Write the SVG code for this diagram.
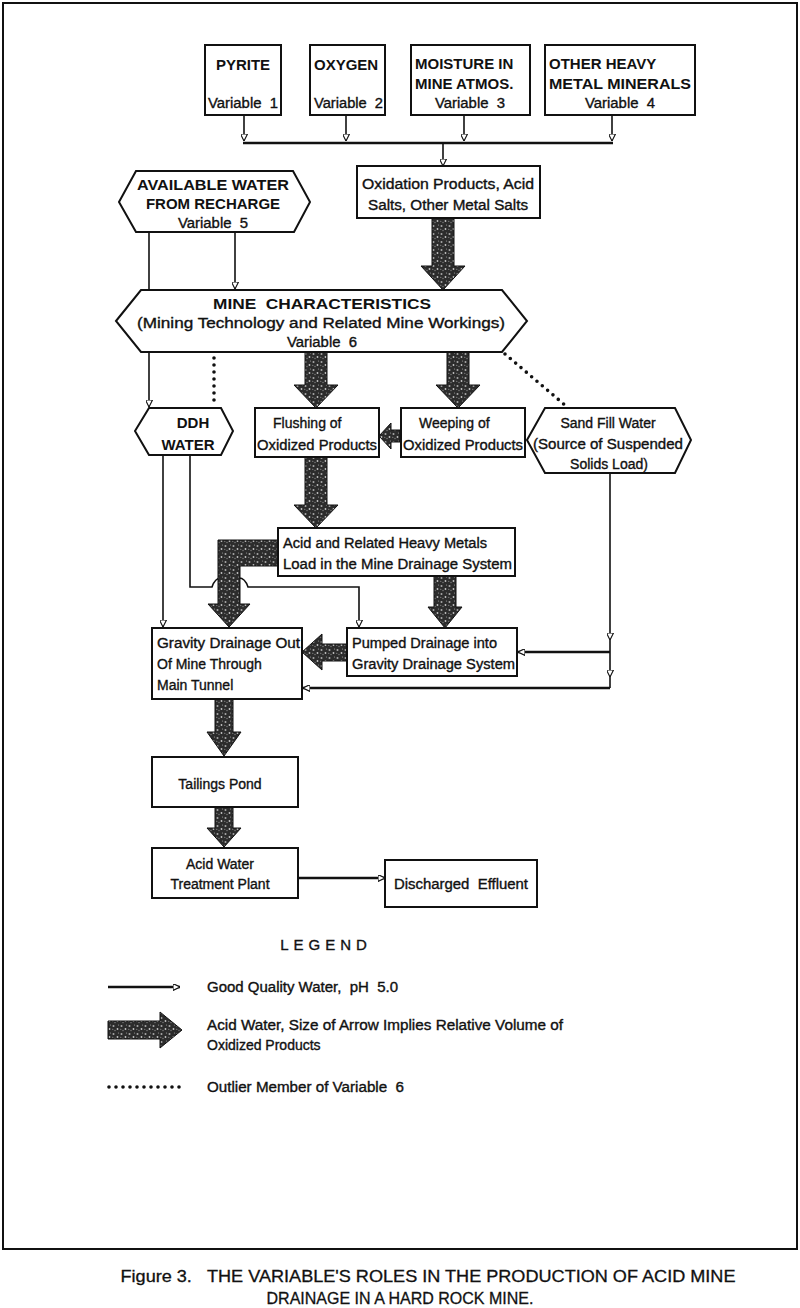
<svg xmlns="http://www.w3.org/2000/svg" width="800" height="1308" viewBox="0 0 800 1308">
<style>
.box{fill:#fff;stroke:#111;stroke-width:2}
.t{font-family:"Liberation Sans",Arial,sans-serif;font-size:14px;fill:#111;stroke:#111;stroke-width:0.35}
.tc{font-family:"Liberation Sans",Arial,sans-serif;font-size:14px;fill:#111;stroke:#111;stroke-width:0.35;text-anchor:middle}
.cap{font-family:"Liberation Sans",Arial,sans-serif;font-size:15px;fill:#111;font-weight:bold}
.ln{fill:none;stroke:#111;stroke-width:1.6}
.lnh{fill:none;stroke:#111;stroke-width:2.4}
.bus{fill:none;stroke:#111;stroke-width:2.6}
.dot{fill:none;stroke:#111;stroke-width:3.6;stroke-linecap:round;stroke-dasharray:0 7}
.fat{fill:url(#stip);stroke:#111;stroke-width:1}
</style>
<defs>
<pattern id="stip" width="8" height="8" patternUnits="userSpaceOnUse">
<rect width="8" height="8" fill="#2c2c2c"/>
<circle cx="1.5" cy="2" r="1" fill="#a8a8a8"/>
<circle cx="5.5" cy="5" r="0.9" fill="#c4c4c4"/>
<circle cx="3" cy="6.5" r="0.7" fill="#808080"/>
<circle cx="6.5" cy="1" r="0.6" fill="#999"/>
<circle cx="0.8" cy="5.2" r="0.5" fill="#b0b0b0"/>
</pattern>
<marker id="ah" viewBox="0 0 10 10" refX="10" refY="5" markerWidth="7" markerHeight="7" markerUnits="userSpaceOnUse" orient="auto">
<path d="M0,0 L10,5 L0,10 Z" fill="#fff" stroke="#111" stroke-width="1.6"/>
</marker>
</defs>

<rect x="3" y="3" width="794" height="1246" fill="none" stroke="#111" stroke-width="2"/>

<g id="connectors">
<path class="ln" d="M244 115 V141" marker-end="url(#ah)"/>
<path class="ln" d="M346 115 V141" marker-end="url(#ah)"/>
<path class="ln" d="M464 115 V141" marker-end="url(#ah)"/>
<path class="ln" d="M612 115 V141" marker-end="url(#ah)"/>
<path class="bus" d="M243 143 H613"/>
<path class="ln" d="M443 143 V166" marker-end="url(#ah)"/>
<path class="ln" d="M235 232 V289" marker-end="url(#ah)"/>
<path class="ln" d="M149 232 V407" marker-end="url(#ah)"/>
<path class="ln" d="M163 456 V627" marker-end="url(#ah)"/>
<path class="ln" d="M190 456 V587 H212 Q215 578 221 578 H239 Q245 578 248 587 H359 V627" marker-end="url(#ah)"/>
<path class="ln" d="M610 473 V640 V677 V688" marker-mid="url(#ah)"/>
<path class="lnh" d="M610 652 H518" marker-end="url(#ah)"/>
<path class="lnh" d="M610 688 H303" marker-end="url(#ah)"/>
<path class="lnh" d="M298 878 H385" marker-end="url(#ah)"/>
<path class="dot" d="M214 358 V406"/>
<path class="dot" d="M505 354 L566 406"/>
<polygon class="fat" points="432,218 454,218 454,266 465,266 443,290 421,266 432,266"/>
<polygon class="fat" points="305,352 327,352 327,385 338,385 316,408 294,385 305,385"/>
<polygon class="fat" points="447,352 469,352 469,385 480,385 458,408 436,385 447,385"/>
<polygon class="fat" points="400,430 391,430 391,423 379,436 391,449 391,442 400,442"/>
<polygon class="fat" points="305,457 327,457 327,505 338,505 316,528 294,505 305,505"/>
<polygon class="fat" points="278,540 218,540 218,604 208,604 229,627 250,604 240,604 240,566 278,566"/>
<polygon class="fat" points="434,576 456,576 456,607 462,607 445,628 428,607 434,607"/>
<polygon class="fat" points="347,644 322,644 322,634 302,652 322,670 322,661 347,661"/>
<polygon class="fat" points="215,699 233,699 233,732 241,732 224,756 207,732 215,732"/>
<polygon class="fat" points="215,807 233,807 233,828 241,828 224,847 207,828 215,828"/>
</g>

<g id="n-pyrite">
<rect class="box" x="205" y="45" width="76" height="70"/>
<text class="cap" x="243" y="70" text-anchor="middle">PYRITE</text>
<text class="t" x="208" y="108" textLength="70" lengthAdjust="spacingAndGlyphs">Variable&#160;&#160;1</text>
</g>
<g id="n-oxygen">
<rect class="box" x="310" y="45" width="75" height="70"/>
<text class="cap" x="314" y="70">OXYGEN</text>
<text class="t" x="314" y="108" textLength="69" lengthAdjust="spacingAndGlyphs">Variable&#160;&#160;2</text>
</g>
<g id="n-moisture">
<rect class="box" x="411" y="45" width="119" height="70"/>
<text class="cap" x="415" y="69">MOISTURE IN</text>
<text class="cap" x="415" y="89">MINE ATMOS.</text>
<text class="tc" x="470" y="108" textLength="70" lengthAdjust="spacingAndGlyphs">Variable&#160;&#160;3</text>
</g>
<g id="n-other">
<rect class="box" x="545" y="45" width="150" height="70"/>
<text class="cap" x="549" y="69">OTHER HEAVY</text>
<text class="cap" x="549" y="89" textLength="142" lengthAdjust="spacingAndGlyphs">METAL MINERALS</text>
<text class="tc" x="620" y="108" textLength="70" lengthAdjust="spacingAndGlyphs">Variable&#160;&#160;4</text>
</g>
<g id="n-oxid">
<rect class="box" x="357" y="166" width="183" height="52"/>
<text class="tc" x="448" y="189" textLength="172" lengthAdjust="spacingAndGlyphs">Oxidation Products, Acid</text>
<text class="tc" x="448" y="210" textLength="160" lengthAdjust="spacingAndGlyphs">Salts, Other Metal Salts</text>
</g>
<g id="n-avail">
<polygon class="box" points="119,202 136,171 293,171 310,202 294,232 136,232"/>
<text class="cap" x="213" y="190" text-anchor="middle" textLength="152" lengthAdjust="spacingAndGlyphs">AVAILABLE WATER</text>
<text class="cap" x="213" y="209" text-anchor="middle">FROM RECHARGE</text>
<text class="tc" x="213" y="228" textLength="70" lengthAdjust="spacingAndGlyphs">Variable&#160;&#160;5</text>
</g>
<g id="n-mine">
<polygon class="box" points="116,321 141,290 502,290 527,321 502,352 141,352"/>
<text class="cap" x="322" y="309" text-anchor="middle" textLength="218" lengthAdjust="spacingAndGlyphs">MINE&#160;&#160;CHARACTERISTICS</text>
<text class="tc" x="321" y="328" textLength="368" lengthAdjust="spacingAndGlyphs">(Mining Technology and Related Mine Workings)</text>
<text class="tc" x="322" y="347" textLength="70" lengthAdjust="spacingAndGlyphs">Variable&#160;&#160;6</text>
</g>
<g id="n-ddh">
<polygon class="box" points="135,431 149,408 221,408 233,431 221,455 149,455"/>
<text class="cap" x="193" y="428" text-anchor="middle">DDH</text>
<text class="cap" x="188" y="450" text-anchor="middle">WATER</text>
</g>
<g id="n-flush">
<rect class="box" x="255" y="408" width="124" height="49"/>
<text class="t" x="273" y="428">Flushing of</text>
<text class="t" x="257" y="450" textLength="120" lengthAdjust="spacingAndGlyphs">Oxidized Products</text>
</g>
<g id="n-weep">
<rect class="box" x="401" y="408" width="124" height="49"/>
<text class="t" x="419" y="428">Weeping of</text>
<text class="t" x="403" y="450" textLength="120" lengthAdjust="spacingAndGlyphs">Oxidized Products</text>
</g>
<g id="n-sand">
<polygon class="box" points="527,440 545,408 675,408 691,440 675,473 545,473"/>
<text class="tc" x="608" y="428">Sand Fill Water</text>
<text class="tc" x="608" y="449" textLength="150" lengthAdjust="spacingAndGlyphs">(Source of Suspended</text>
<text class="tc" x="609" y="469">Solids Load)</text>
</g>
<g id="n-acid">
<rect class="box" x="278" y="528" width="237" height="48"/>
<text class="t" x="283" y="548" textLength="204" lengthAdjust="spacingAndGlyphs">Acid and Related Heavy Metals</text>
<text class="t" x="283" y="569" textLength="229" lengthAdjust="spacingAndGlyphs">Load in the Mine Drainage System</text>
</g>
<g id="n-gravity">
<rect class="box" x="152" y="628" width="150" height="71"/>
<text class="t" x="157" y="648" textLength="143" lengthAdjust="spacingAndGlyphs">Gravity Drainage Out</text>
<text class="t" x="157" y="669">Of Mine Through</text>
<text class="t" x="157" y="690">Main Tunnel</text>
</g>
<g id="n-pumped">
<rect class="box" x="347" y="628" width="170" height="48"/>
<text class="t" x="352" y="648" textLength="145" lengthAdjust="spacingAndGlyphs">Pumped Drainage into</text>
<text class="t" x="352" y="669" textLength="163" lengthAdjust="spacingAndGlyphs">Gravity Drainage System</text>
</g>
<g id="n-tailings">
<rect class="box" x="152" y="757" width="146" height="50"/>
<text class="tc" x="220" y="789">Tailings Pond</text>
</g>
<g id="n-treat">
<rect class="box" x="152" y="848" width="146" height="50"/>
<text class="tc" x="220" y="869">Acid Water</text>
<text class="tc" x="220" y="889">Treatment Plant</text>
</g>
<g id="n-effluent">
<rect class="box" x="385" y="860" width="152" height="47"/>
<text class="tc" x="461" y="889" textLength="134" lengthAdjust="spacingAndGlyphs">Discharged&#160;&#160;Effluent</text>
</g>

<g id="legend">
<text x="326" y="950" font-family="Liberation Sans, Arial, sans-serif" font-size="15" fill="#111" stroke="#111" stroke-width="0.35" text-anchor="middle" letter-spacing="5">LEGEND</text>
<path class="lnh" d="M108 987 H180" marker-end="url(#ah)"/>
<text class="t" x="207" y="992" textLength="191" lengthAdjust="spacingAndGlyphs">Good Quality Water,&#160;&#160;pH&#160;&#160;5.0</text>
<polygon class="fat" points="108,1021 160,1021 160,1012 182,1030 160,1048 160,1039 108,1039"/>
<text class="t" x="207" y="1030" textLength="356" lengthAdjust="spacingAndGlyphs">Acid Water, Size of Arrow Implies Relative Volume of</text>
<text class="t" x="207" y="1050">Oxidized Products</text>
<path class="dot" d="M109 1087 H182"/>
<text class="t" x="207" y="1092" textLength="197" lengthAdjust="spacingAndGlyphs">Outlier Member of Variable&#160;&#160;6</text>
</g>

<g id="caption">
<text x="428" y="1282" font-family="Liberation Sans, Arial, sans-serif" font-size="17" fill="#111" stroke="#111" stroke-width="0.3" text-anchor="middle" textLength="615" lengthAdjust="spacingAndGlyphs">Figure 3.&#160;&#160;&#160;THE VARIABLE'S ROLES IN THE PRODUCTION OF ACID MINE</text>
<text x="400" y="1304" font-family="Liberation Sans, Arial, sans-serif" font-size="17" fill="#111" stroke="#111" stroke-width="0.3" text-anchor="middle" textLength="267" lengthAdjust="spacingAndGlyphs">DRAINAGE IN A HARD ROCK MINE.</text>
</g>
</svg>
